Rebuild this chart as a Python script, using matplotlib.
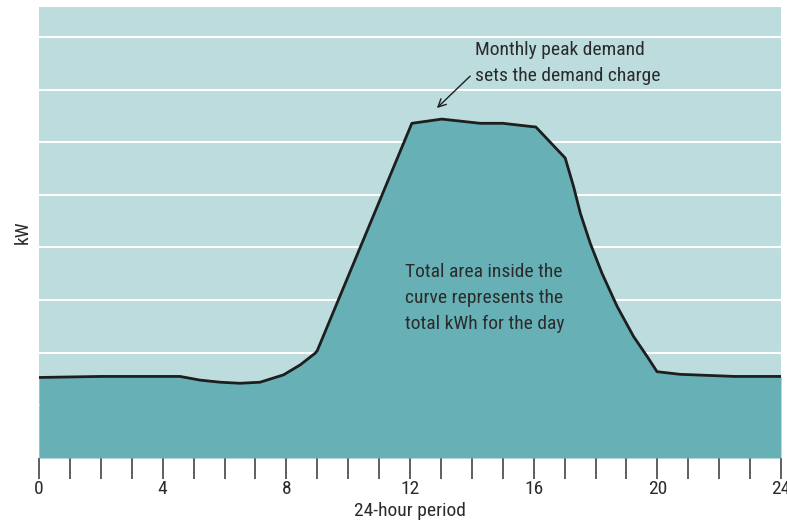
import matplotlib
matplotlib.use('Agg')
from matplotlib import pyplot
import numpy as np

# daily load profile (kW, arbitrary units)
hours = [0, 2, 3.59, 4.56, 5.21, 5.86, 6.5, 7.15, 7.91, 8.45, 8.93, 9.0, 12.06, 13.03,
         14.27, 15.0, 15.9, 16.07, 17.02, 17.29, 17.51, 17.83, 18.21, 18.7, 19.23,
         19.67, 19.99, 20.74, 22.5, 24]
kw = [1.53, 1.55, 1.55, 1.55, 1.48, 1.44, 1.42, 1.44, 1.58, 1.77, 1.99, 2.04, 6.36, 6.44,
      6.36, 6.36, 6.30, 6.29, 5.70, 5.16, 4.65, 4.08, 3.51, 2.88, 2.31,
      1.93, 1.64, 1.59, 1.55, 1.55]

major_ticks = [0, 4, 8, 12, 16, 20, 24]
grid_levels = [1, 2, 3, 4, 5, 6, 7, 8]

bg_color = '#bddcdd'
fill_color = '#67b1b6'
text_color = '#2b2b2b'

pyplot.rcParams['font.family'] = ['Roboto Condensed', 'DejaVu Sans']

fig = pyplot.figure(figsize=(7.87, 5.25), dpi=100)
ax = fig.add_axes([39/787., 67/525., 742/787., 451/525.])
ax.set_facecolor(bg_color)

for lev in grid_levels:
	ax.axhline(lev, color='white', lw=1.5, zorder=1)

ax.fill_between(hours, kw, 0, color=fill_color, lw=0, zorder=2)
ax.plot(hours, kw, color='#1e1e1e', lw=2.0, zorder=3, solid_joinstyle='round')

ax.set_xlim(0, 24)
ax.set_ylim(0, 8.57)
for side in ['left', 'right', 'top', 'bottom']:
	ax.spines[side].set_visible(False)

ax.set_xticks(major_ticks)
ax.set_xticks(np.arange(0, 25, 1), minor=True)
ax.tick_params(axis='x', which='both', length=15, width=1.2, color='#444444',
	labelsize=14, labelcolor=text_color, pad=1)
ax.set_yticks([])

ax.set_xlabel('24-hour period', fontsize=14, color=text_color, labelpad=3)
ax.set_ylabel('kW', fontsize=14, color=text_color, labelpad=5)

ax.annotate('Monthly peak demand\nsets the demand charge', xy=(12.87, 6.65), xytext=(14.1, 7.51),
	fontsize=14, color=text_color, ha='left', va='center', linespacing=1.55,
	arrowprops=dict(arrowstyle='->', color='#1e1e1e', lw=1.0, shrinkA=2, shrinkB=0,
		relpos=(0, 0.3)))

ax.text(11.84, 3.04, 'Total area inside the\ncurve represents the\ntotal kWh for the day',
	fontsize=14, color=text_color, ha='left', va='center', linespacing=1.55)

pyplot.savefig('out.png', dpi=100)
pyplot.close()
